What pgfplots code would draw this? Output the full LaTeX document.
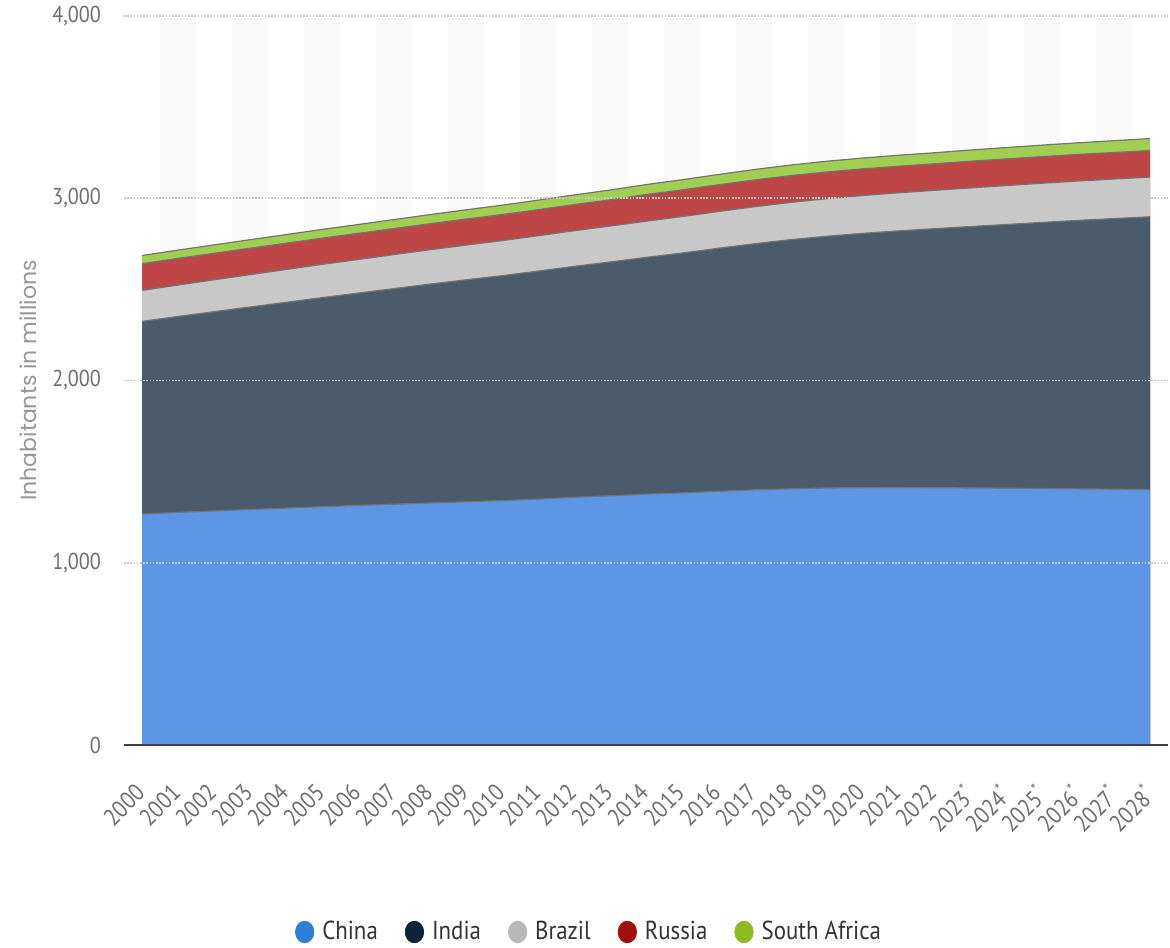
\documentclass[border=0pt]{standalone}
\usepackage{fontspec}
\setmainfont{PT Sans}[FakeStretch=0.88]
\newfontfamily\labelfont{Poppins}
\usepackage{pgfplots}
\usepackage{pgfplotstable}
\pgfplotsset{compat=1.18}

\definecolor{chinaC}{RGB}{47,126,216}
\definecolor{indiaC}{RGB}{13,35,58}
\definecolor{brazilC}{RGB}{184,184,184}
\definecolor{russiaC}{RGB}{161,14,14}
\definecolor{saC}{RGB}{139,188,33}
\definecolor{chinaF}{RGB}{94,150,230}
\definecolor{indiaF}{RGB}{74,91,108}
\definecolor{brazilF}{RGB}{200,200,200}
\definecolor{russiaF}{RGB}{190,70,70}
\definecolor{saF}{RGB}{160,206,80}
\definecolor{tickgray}{RGB}{110,110,110}
\definecolor{labelgray}{RGB}{150,150,150}
\definecolor{axisgray}{RGB}{64,64,64}
\definecolor{stripe}{RGB}{249,249,249}

% population in millions, x = year - 2000
\pgfplotstableread{
x  China  India  Brazil Russia SA
0  1267.4 1057   170    146.6  44.8
1  1276.3 1075   172.5  146.3  45.5
2  1284.5 1093   175    145.2  46.2
3  1292.3 1111   177.5  144.9  46.8
4  1299.9 1129   180    144.3  47.4
5  1307.6 1147   182.5  143.8  48.0
6  1314.5 1165   184.5  143.2  48.6
7  1321.3 1183   186.5  142.8  49.3
8  1328.0 1201   188.5  142.7  50.0
9  1334.5 1218   190.5  142.8  50.7
10 1340.9 1234   192.5  142.9  51.5
11 1349.2 1251   194    143.0  52.3
12 1359.2 1267   195.5  143.3  53.1
13 1367.3 1283   197    143.7  53.9
14 1376.5 1299   198.5  146.3  54.7
15 1383.3 1316   200    146.5  55.6
16 1392.3 1333   201.5  146.8  56.4
17 1400.1 1350   203    146.9  57.3
18 1405.4 1367   204.5  146.8  58.1
19 1410.1 1381   206    146.7  58.8
20 1412.1 1395   207.5  146.2  59.6
21 1412.6 1408   209    145.9  60.1
22 1411.8 1421   210.5  145.6  60.6
23 1410.5 1434   212    146.4  61.5
24 1409.0 1447   213.5  146.2  62.4
25 1407.3 1460   215    146.0  63.2
26 1405.4 1473   216    145.8  64.0
27 1403.4 1485   217    145.6  64.9
28 1401.3 1497   218    145.4  65.7
}\data
\pgfplotstablecreatecol[expr={\thisrow{China}+\thisrow{India}}]{CI}{\data}
\pgfplotstablecreatecol[expr={\thisrow{CI}+\thisrow{Brazil}}]{CIB}{\data}
\pgfplotstablecreatecol[expr={\thisrow{CIB}+\thisrow{Russia}}]{CIBR}{\data}
\pgfplotstablecreatecol[expr={\thisrow{CIBR}+\thisrow{SA}}]{CIBRS}{\data}

\begin{document}
\begin{tikzpicture}
\useasboundingbox (0,0) rectangle (585pt,473.5pt);
\begin{axis}[
    at={(62pt,101pt)}, anchor=south west,
    width=522pt, height=364.5pt, scale only axis,
    xmin=-0.5, xmax=28.5, ymin=0, ymax=4000,
    axis on top,
    axis x line*=bottom, axis y line*=left,
    x axis line style={-, line width=1.3pt, draw=axisgray},
    y axis line style={draw=none},
    major tick length=0pt,
    ytick={0,1000,2000,3000,4000},
    xtick={0,...,28},
    xticklabels={2000,2001,2002,2003,2004,2005,2006,2007,2008,2009,2010,2011,2012,2013,2014,2015,2016,2017,2018,2019,2020,2021,2022,2023\textsuperscript{*},2024\textsuperscript{*},2025\textsuperscript{*},2026\textsuperscript{*},2027\textsuperscript{*},2028\textsuperscript{*}},
    /pgf/number format/1000 sep={,},
    /pgf/number format/assume math mode=true,
    yticklabel style={font=\fontsize{11.5}{13}\selectfont, text=tickgray, anchor=east, xshift=-8pt},
    xticklabel style={font=\fontsize{12}{13}\selectfont, text=tickgray, xshift=-4pt, yshift=-18.5pt, rotate=45, anchor=north east, inner sep=0pt},
    ymajorgrids,
    major grid style={draw=black!22, line width=0.8pt, dash pattern=on 0.8pt off 0.8pt},
    ylabel={Inhabitants in millions},
    every axis y label/.style={at={(axis description cs:-0.092,0.5)}, rotate=90, anchor=center,
        font=\labelfont\fontsize{11}{13}\selectfont, text=labelgray},
    no markers,
    legend columns=5,
    legend image code/.code={\fill[#1] (4.6pt,0pt) ellipse [x radius=4.6pt, y radius=5.4pt];},
    legend style={draw=none, fill=none, at={(0.4464,-0.2565)}, anchor=center,
        font=\fontsize{13}{15}\selectfont, text=black!80,
        /tikz/every odd column/.append style={column sep=2pt},
        /tikz/every even column/.append style={column sep=11.5pt}},
    legend cell align=left,
]
% alternating background bands
\pgfplotsinvokeforeach{1,3,...,27}{
    \fill[stripe] (axis cs:#1-0.5,0) rectangle (axis cs:#1+0.5,4000);
}
\addplot[fill=saF, draw=none, forget plot] table[x=x, y=CIBRS] {\data} \closedcycle;
\addplot[fill=russiaF, draw=none, forget plot] table[x=x, y=CIBR] {\data} \closedcycle;
\addplot[fill=brazilF, draw=none, forget plot] table[x=x, y=CIB] {\data} \closedcycle;
\addplot[fill=indiaF, draw=none, forget plot] table[x=x, y=CI] {\data} \closedcycle;
\addplot[fill=chinaF, draw=none, forget plot] table[x=x, y=China] {\data} \closedcycle;
\addplot[black!55, line width=0.6pt, forget plot] table[x=x, y=China] {\data};
\addplot[black!55, line width=0.6pt, forget plot] table[x=x, y=CI] {\data};
\addplot[black!55, line width=0.6pt, forget plot] table[x=x, y=CIB] {\data};
\addplot[black!55, line width=0.6pt, forget plot] table[x=x, y=CIBR] {\data};
\addplot[black!55, line width=0.6pt, forget plot] table[x=x, y=CIBRS] {\data};
\addlegendimage{chinaC}\addlegendentry{China}
\addlegendimage{indiaC}\addlegendentry{India}
\addlegendimage{brazilC}\addlegendentry{Brazil}
\addlegendimage{russiaC}\addlegendentry{Russia}
\addlegendimage{saC}\addlegendentry{South Africa}
\end{axis}
\end{tikzpicture}
\end{document}
